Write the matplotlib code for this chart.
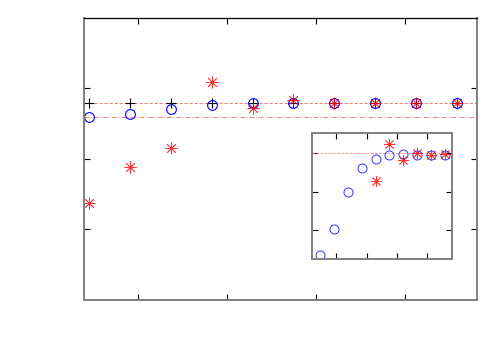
import matplotlib
matplotlib.use('Agg')
import matplotlib.pyplot as plt
import numpy as np

# main panel
idx = np.arange(1, 11)
plus_y = [2.794] * 10
circ_y = [2.589, 2.634, 2.713, 2.762, 2.79, 2.79, 2.79, 2.79, 2.79, 2.79]
star_y = [1.372, 1.882, 2.160, 3.092, 2.728, 2.837, 2.79, 2.79, 2.79, 2.79]
ref_dash = 2.794
ref_dashdot = 2.596

# inset panel
ins_circ_y = [0.358, 1.026, 1.987, 2.61, 2.852, 2.948, 2.974, 2.956, 2.956, 2.964]
ins_star_x = [5, 6, 7, 8, 9, 10]
ins_star_y = [2.27, 3.234, 2.826, 3.0, 2.956, 2.982]
ins_ref = 3.0

star = (8, 2, 0)


def style(ax):
    for s in ['left', 'right', 'bottom', 'top']:
        ax.spines[s].set_color('#808080')
        ax.spines[s].set_linewidth(1.4)
    ax.tick_params(direction='in', length=4, width=0.8, colors='black',
                   top=True, right=True, labelbottom=False, labelleft=False)


fig = plt.figure(figsize=(5, 3.5), dpi=100)
ax = fig.add_axes([0.168, 0.1429, 0.786, 0.8057])
style(ax)
ax.spines['top'].set_color('black')
ax.spines['top'].set_linewidth(0.9)

ax.axhline(ref_dash, color='#e05050', ls=(0, (4, 2)), lw=0.6, alpha=0.8)
ax.axhline(ref_dashdot, color='#e05050', ls=(0, (6, 2, 1, 2)), lw=0.6, alpha=0.8)
ax.plot(idx, plus_y, 'k+', ms=7.5, mew=0.8)
ax.plot(idx, circ_y, 'o', mfc='none', mec='blue', ms=7, mew=0.8)
ax.plot(idx, star_y, ls='none', marker=star, color='red', ms=8.5, mew=0.6, alpha=0.8)

ax.set_xlim(0.878, 10.49)
ax.set_ylim(0, 4)
ax.set_xticks([2.2, 4.37, 6.55, 8.73])
ax.set_yticks([1, 2, 3])

ins = fig.add_axes([0.624, 0.259, 0.28, 0.36])
style(ins)
ins.axhline(ins_ref, xmax=0.95, color='#ff8080', ls=(0, (3, 2)), lw=0.6)
ins.plot(idx, ins_circ_y, 'o', mfc='none', mec='blue', ms=6.5, mew=0.7, alpha=0.8)
ins.plot(ins_star_x, ins_star_y, ls='none', marker=star, color='red',
         ms=8, mew=0.6, alpha=0.8)
ins.set_xlim(0.425, 10.5)
ins.set_ylim(0.247, 3.52)
ins.set_xticks([2.15, 4.36, 6.52, 8.70])
ins.set_yticks([1, 2, 3])

fig.savefig('out.png', dpi=100)
